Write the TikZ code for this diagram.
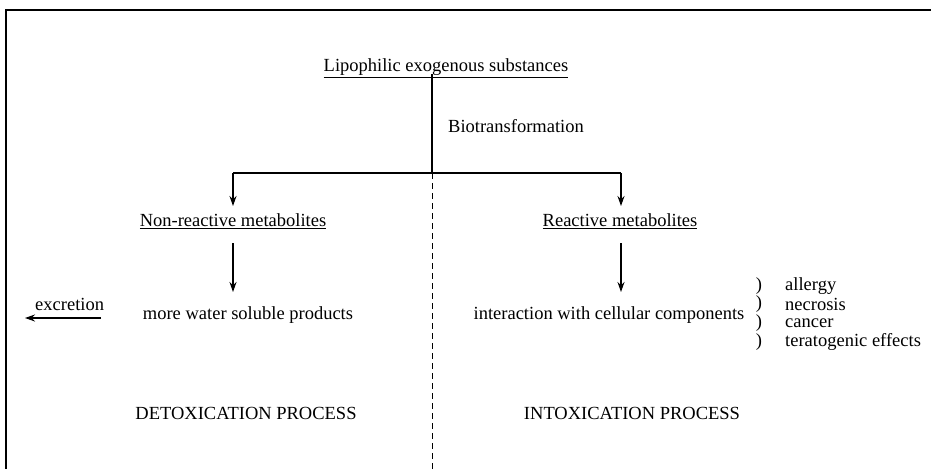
\documentclass[tikz,border=0pt]{standalone}
\usepackage{fontspec}
\setmainfont{Liberation Serif}
\usetikzlibrary{arrows.meta}
\begin{document}
\begin{tikzpicture}[x=1pt,y=-1pt,
  txt/.style={inner sep=0pt,font=\fontsize{18.5}{21}\selectfont},
  ln/.style={line width=1.2pt},
  arr/.style={ln,-{Stealth[length=10pt,width=7pt]}}]
\useasboundingbox (0,0) rectangle (931,469);
\draw[ln] (931,10) -- (6,10) -- (6,469);
% title
\node[txt] (title) at (446,68) {\underline{Lipophilic exogenous substances}};
\node[txt,anchor=west] (bio) at (448,126) {Biotransformation};
\coordinate (top) at (432,74);
\coordinate (mid) at (432,173);
\coordinate (lj) at (233,173);
\coordinate (rj) at (621,173);
\coordinate (bot) at (432,469);
\draw[ln] (top) -- (mid);
\draw[ln] (lj) -- (rj);
\draw[line width=1pt,dash pattern=on 6pt off 4pt] (mid) -- (bot);
\node[txt] (nonr) at (233,221) {\underline{Non-reactive metabolites}};
\node[txt] (react) at (620,221) {\underline{Reactive metabolites}};
\coordinate (l1) at (233,206);
\coordinate (r1) at (621,206);
\draw[arr] (lj) -- (l1);
\draw[arr] (rj) -- (r1);
\node[txt] (water) at (248,315) {more water soluble products};
\node[txt] (inter) at (609,315) {interaction with cellular components};
\coordinate (l2s) at (233,243);
\coordinate (l2e) at (233,292);
\coordinate (r2s) at (621,243);
\coordinate (r2e) at (621,292);
\draw[arr] (l2s) -- (l2e);
\draw[arr] (r2s) -- (r2e);
\node[txt,anchor=west] (excr) at (35,304) {excretion};
\coordinate (ex1) at (101,318);
\coordinate (ex2) at (25,318);
\draw[arr] (ex1) -- (ex2);
\foreach \n/\t/\y in {al/allergy/286, ne/necrosis/304, ca/cancer/323, te/teratogenic effects/342}{
  \node[txt] (p\n) at (759,\y) {)};
  \node[txt,anchor=west] (\n) at (785,\y) {\t};
}
\node[txt] (detox) at (246,413) {DETOXICATION PROCESS};
\node[txt] (intox) at (632,413) {INTOXICATION PROCESS};
\end{tikzpicture}
\end{document}
